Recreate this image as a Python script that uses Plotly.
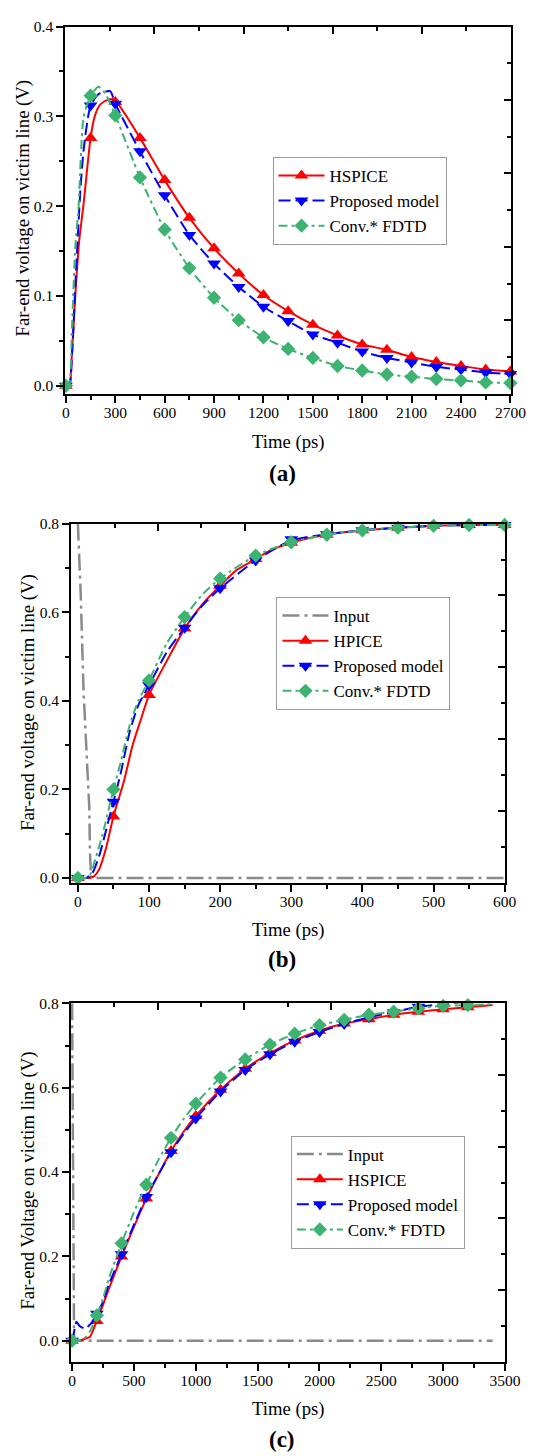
import plotly.graph_objects as go

# ---------------- Panel (a) data ----------------
a_line_t_hspice = [0, 22, 35, 57, 80, 107, 150, 175, 208, 250, 290, 320, 450, 600, 750, 900, 1050, 1200, 1350, 1500, 1650, 1800, 1950, 2100, 2250, 2400, 2550, 2700]
a_line_v_hspice = [0, 0, 0.03, 0.10, 0.16, 0.202, 0.276, 0.300, 0.313, 0.318, 0.319, 0.313, 0.276, 0.229, 0.187, 0.153, 0.125, 0.101, 0.083, 0.068, 0.056, 0.046, 0.040, 0.032, 0.0265, 0.022, 0.018, 0.016]
a_line_t_prop = [0, 20, 38, 59, 89, 109, 150, 200, 269, 300, 450, 600, 750, 900, 1050, 1200, 1350, 1500, 1650, 1800, 1950, 2100, 2250, 2400, 2550, 2700]
a_line_v_prop = [0, 0, 0.037, 0.118, 0.221, 0.265, 0.312, 0.325, 0.328, 0.314, 0.261, 0.212, 0.168, 0.136, 0.110, 0.088, 0.072, 0.057, 0.048, 0.038, 0.031, 0.026, 0.021, 0.018, 0.0147, 0.013]
a_line_t_fdtd = [0, 18, 37, 57, 77, 107, 150, 198, 240, 300, 450, 600, 750, 900, 1050, 1200, 1350, 1500, 1650, 1800, 1950, 2100, 2250, 2400, 2550, 2700]
a_line_v_fdtd = [0, 0, 0.066, 0.155, 0.199, 0.298, 0.323, 0.333, 0.325, 0.301, 0.232, 0.174, 0.131, 0.098, 0.073, 0.054, 0.041, 0.031, 0.022, 0.017, 0.0125, 0.010, 0.0074, 0.006, 0.0037, 0.003]

a_mark_t = [0, 150, 300, 450, 600, 750, 900, 1050, 1200, 1350, 1500, 1650, 1800, 1950, 2100, 2250, 2400, 2550, 2700]
a_mark_hspice = [0, 0.276, 0.316, 0.276, 0.229, 0.187, 0.153, 0.125, 0.101, 0.083, 0.068, 0.056, 0.046, 0.040, 0.032, 0.0265, 0.022, 0.018, 0.016]
a_mark_prop = [0, 0.312, 0.314, 0.261, 0.212, 0.168, 0.136, 0.110, 0.088, 0.072, 0.057, 0.048, 0.038, 0.031, 0.026, 0.021, 0.018, 0.0147, 0.013]
a_mark_fdtd = [0, 0.323, 0.301, 0.232, 0.174, 0.131, 0.098, 0.073, 0.054, 0.041, 0.031, 0.022, 0.017, 0.0125, 0.010, 0.0074, 0.006, 0.0037, 0.003]

# ---------------- Panel (b) data ----------------
b_input_t = [0, 4, 8, 12, 16, 17, 18.5, 600]
b_input_v = [0.8, 0.64, 0.42, 0.28, 0.16, 0.06, 0, 0]
b_line_t_hspice = [0, 15, 22, 30, 40, 50, 65, 77, 88, 100, 129, 150, 176, 200, 223, 250, 270, 300, 350, 400, 450, 500, 550, 600]
b_line_v_hspice = [0, 0, 0.003, 0.02, 0.07, 0.139, 0.22, 0.30, 0.355, 0.413, 0.502, 0.563, 0.620, 0.660, 0.695, 0.720, 0.739, 0.757, 0.775, 0.785, 0.791, 0.795, 0.797, 0.797]
b_line_t_prop = [0, 12, 20, 30, 40, 50, 60, 73, 85, 100, 125, 150, 175, 200, 250, 300, 350, 400, 450, 500, 550, 600]
b_line_v_prop = [0, 0, 0.01, 0.05, 0.11, 0.172, 0.235, 0.331, 0.39, 0.435, 0.51, 0.565, 0.615, 0.654, 0.717, 0.762, 0.776, 0.785, 0.791, 0.795, 0.797, 0.797]
b_line_t_fdtd = [0, 10, 17, 25, 35, 50, 60, 73, 85, 100, 125, 150, 175, 200, 250, 300, 350, 400, 450, 500, 550, 600]
b_line_v_fdtd = [0, 0, 0.007, 0.045, 0.10, 0.20, 0.26, 0.346, 0.40, 0.446, 0.53, 0.589, 0.64, 0.676, 0.728, 0.758, 0.775, 0.785, 0.791, 0.795, 0.797, 0.797]

b_mark_t = [0, 50, 100, 150, 200, 250, 300, 350, 400, 450, 500, 550, 600]
b_mark_hspice = [0, 0.139, 0.413, 0.563, 0.66, 0.72, 0.757, 0.775, 0.785, 0.791, 0.795, 0.797, 0.797]
b_mark_prop = [0, 0.172, 0.435, 0.565, 0.654, 0.717, 0.765, 0.776, 0.785, 0.791, 0.795, 0.797, 0.797]
b_mark_fdtd = [0, 0.2, 0.446, 0.589, 0.676, 0.728, 0.758, 0.775, 0.785, 0.791, 0.795, 0.797, 0.797]

# ---------------- Panel (c) data ----------------
c_input_t = [0, 6, 12, 16, 3400]
c_input_v = [0.8, 0.4, 0.08, 0, 0]
c_line_t_hspice = [0, 60, 100, 143, 170, 200, 250, 300, 400, 500, 600, 700, 800, 900, 1000, 1200, 1400, 1600, 1800, 2000, 2200, 2400, 2600, 2800, 3000, 3200, 3400]
c_line_v_hspice = [0, 0, 0.004, 0.009, 0.025, 0.047, 0.085, 0.125, 0.200, 0.27, 0.337, 0.395, 0.45, 0.495, 0.533, 0.595, 0.645, 0.682, 0.712, 0.735, 0.752, 0.7625, 0.773, 0.780, 0.786, 0.791, 0.796]
c_line_t_prop = [0, 15, 35, 60, 102, 150, 200, 250, 300, 400, 500, 600, 700, 800, 900, 1000, 1200, 1400, 1600, 1800, 2000, 2200, 2400, 2600, 2800, 3000, 3200]
c_line_v_prop = [0, 0.02, 0.045, 0.035, 0.029, 0.04, 0.064, 0.092, 0.135, 0.205, 0.275, 0.341, 0.395, 0.447, 0.49, 0.527, 0.591, 0.642, 0.679, 0.709, 0.732, 0.751, 0.767, 0.779, 0.792, 0.798, 0.804]
c_line_t_fdtd = [0, 60, 100, 150, 200, 250, 300, 400, 500, 600, 700, 800, 900, 1000, 1200, 1400, 1600, 1800, 2000, 2200, 2400, 2600, 2800, 3000, 3200, 3400]
c_line_v_fdtd = [0, 0, 0.006, 0.025, 0.060, 0.10, 0.15, 0.231, 0.305, 0.370, 0.43, 0.481, 0.525, 0.562, 0.624, 0.667, 0.702, 0.728, 0.748, 0.761, 0.773, 0.780, 0.788, 0.794, 0.796, 0.798]

c_mark_t = [0, 200, 400, 600, 800, 1000, 1200, 1400, 1600, 1800, 2000, 2200, 2400, 2600, 2800, 3000, 3200]
c_mark_hspice = [0, 0.047, 0.200, 0.337, 0.45, 0.533, 0.595, 0.645, 0.682, 0.712, 0.735, 0.752, 0.7625, 0.773, 0.780, 0.786, 0.791]
c_mark_prop = [0, 0.064, 0.205, 0.341, 0.447, 0.527, 0.591, 0.642, 0.679, 0.709, 0.732, 0.751, 0.767, 0.779, 0.792, 0.798, 0.804]
c_mark_fdtd = [0, 0.060, 0.231, 0.370, 0.481, 0.562, 0.624, 0.667, 0.702, 0.728, 0.748, 0.761, 0.773, 0.780, 0.788, 0.794, 0.796]

# ---------------- Styling ----------------
W, H = 542, 1456
FONT = "Liberation Serif"
RED, BLUE, GREEN, GRAY = "#FF0000", "#0000FF", "#3CB371", "#8A8A8A"
STY = {
    "hspice": dict(color=RED, dash="solid", symbol="triangle-up", size=12),
    "prop": dict(color=BLUE, dash="12px,5px", symbol="triangle-down", size=12),
    "fdtd": dict(color=GREEN, dash="9px,4px,3px,4px", symbol="diamond", size=11),
}
INPUT_DASH = "17px,5px,3px,5px"

fig = go.Figure()


def px_x(p):
    return p / W


def px_y(p):
    return 1 - p / H


def add_series(xa, ya, lg, name, key, lt, lv, mt, mv):
    s = STY[key]
    fig.add_trace(go.Scatter(x=lt, y=lv, mode="lines", xaxis=xa, yaxis=ya,
                             line=dict(color=s["color"], width=2, dash=s["dash"], shape="spline", smoothing=0.6),
                             showlegend=False, hoverinfo="skip"))
    fig.add_trace(go.Scatter(x=mt, y=mv, mode="markers", xaxis=xa, yaxis=ya, cliponaxis=False,
                             marker=dict(color=s["color"], symbol=s["symbol"], size=s["size"], line=dict(width=0)),
                             showlegend=False, hoverinfo="skip"))
    fig.add_trace(go.Scatter(x=[None], y=[None], mode="lines+markers", xaxis=xa, yaxis=ya, name=name, legend=lg,
                             line=dict(color=s["color"], width=2, dash=s["dash"]),
                             marker=dict(color=s["color"], symbol=s["symbol"], size=s["size"], line=dict(width=0))))


def add_input(xa, ya, lg, t, v):
    fig.add_trace(go.Scatter(x=t, y=v, mode="lines", xaxis=xa, yaxis=ya, name="Input", legend=lg,
                             line=dict(color=GRAY, width=2.5, dash=INPUT_DASH)))


# panel a
add_series("x", "y", "legend", "HSPICE", "hspice", a_line_t_hspice, a_line_v_hspice, a_mark_t, a_mark_hspice)
add_series("x", "y", "legend", "Proposed model", "prop", a_line_t_prop, a_line_v_prop, a_mark_t, a_mark_prop)
add_series("x", "y", "legend", "Conv.* FDTD", "fdtd", a_line_t_fdtd, a_line_v_fdtd, a_mark_t, a_mark_fdtd)
# panel b
add_input("x2", "y2", "legend2", b_input_t, b_input_v)
add_series("x2", "y2", "legend2", "HPICE", "hspice", b_line_t_hspice, b_line_v_hspice, b_mark_t, b_mark_hspice)
add_series("x2", "y2", "legend2", "Proposed model", "prop", b_line_t_prop, b_line_v_prop, b_mark_t, b_mark_prop)
add_series("x2", "y2", "legend2", "Conv.* FDTD", "fdtd", b_line_t_fdtd, b_line_v_fdtd, b_mark_t, b_mark_fdtd)
# panel c
add_input("x3", "y3", "legend3", c_input_t, c_input_v)
add_series("x3", "y3", "legend3", "HSPICE", "hspice", c_line_t_hspice, c_line_v_hspice, c_mark_t, c_mark_hspice)
add_series("x3", "y3", "legend3", "Proposed model", "prop", c_line_t_prop, c_line_v_prop, c_mark_t, c_mark_prop)
add_series("x3", "y3", "legend3", "Conv.* FDTD", "fdtd", c_line_t_fdtd, c_line_v_fdtd, c_mark_t, c_mark_fdtd)

# dummy traces for inward top/right tick axes
for xa, ya in [("x4", "y4"), ("x5", "y5"), ("x6", "y6")]:
    fig.add_trace(go.Scatter(x=[None], y=[None], xaxis=xa, yaxis=ya, showlegend=False, hoverinfo="skip"))

tickfont = dict(family=FONT, size=15.5, color="black")


def main_x(domain, anchor, rng, dtick, minor):
    return dict(domain=domain, anchor=anchor, range=rng, tick0=0, dtick=dtick, ticks="outside", ticklen=7,
                tickwidth=2, tickcolor="black", showline=True, linewidth=2, linecolor="black", mirror=True,
                showgrid=False, zeroline=False, tickfont=tickfont, fixedrange=True, ticklabelstandoff=-3,
                minor=dict(tick0=0, dtick=minor, ticks="outside", ticklen=4, tickwidth=2, tickcolor="black", showgrid=False))


def main_y(domain, anchor, rng, dtick, minor):
    return dict(domain=domain, anchor=anchor, range=rng, tick0=0, dtick=dtick, tickformat=".1f", ticks="outside",
                ticklen=7, tickwidth=2, tickcolor="black", showline=True, linewidth=2, linecolor="black",
                mirror=True, showgrid=False, zeroline=False, tickfont=tickfont, fixedrange=True,
                minor=dict(tick0=0, dtick=minor, ticks="outside", ticklen=4, tickwidth=2, tickcolor="black", showgrid=False))


def top_x(over, anchor):
    return dict(overlaying=over, anchor=anchor, side="top", range=[0, 10], tick0=0, dtick=2, ticks="inside",
                ticklen=7, tickwidth=2, tickcolor="black", showticklabels=False, showline=False, showgrid=False,
                zeroline=False, fixedrange=True,
                minor=dict(tick0=0, dtick=1, ticks="inside", ticklen=4, tickwidth=2, tickcolor="black", showgrid=False))


def right_y(over, anchor):
    return dict(overlaying=over, anchor=anchor, side="right", range=[0, 10], tick0=0, dtick=2, ticks="inside",
                ticklen=7, tickwidth=2, tickcolor="black", showticklabels=False, showline=False, showgrid=False,
                zeroline=False, fixedrange=True,
                minor=dict(tick0=0, dtick=1, ticks="inside", ticklen=4, tickwidth=2, tickcolor="black", showgrid=False))


dom_a_x = [px_x(64.5), px_x(526.5)]
dom_a_y = [px_y(388.3), px_y(17.7)]
dom_b_x = [px_x(70.6), px_x(520.6)]
dom_b_y = [px_y(881.7), px_y(519.3)]
dom_c_x = [px_x(70.2), px_x(520.2)]
dom_c_y = [px_y(1365), px_y(1003.3)]

legend_common = dict(xanchor="left", yanchor="top", bgcolor="white", bordercolor="#9A9A9A", borderwidth=1,
                     font=dict(family=FONT, size=17, color="black"), itemwidth=46, tracegroupgap=0,
                     xref="paper", yref="paper")

annotations = []


def add_text(text, x, y, size, angle=0, bold=False):
    annotations.append(dict(text=("<b>%s</b>" % text) if bold else text, x=px_x(x), y=px_y(y), xref="paper",
                            yref="paper", showarrow=False, textangle=angle, xanchor="center", yanchor="middle",
                            font=dict(family=FONT, size=size, color="black")))


add_text("Time (ps)", 295.5, 436.7, 18.7)
add_text("Time (ps)", 295.5, 929.3, 18.7)
add_text("Time (ps)", 295.5, 1412.3, 18.7)
add_text("Far-end voltage on victim line (V)", 21, 201, 18.7, angle=-90)
add_text("Far-end voltage on victim line (V)", 26, 700, 18.7, angle=-90)
add_text("Far-end Voltage on victim line (V)", 26, 1182, 18.7, angle=-90)
add_text("(a)", 289.5, 469, 23, bold=True)
add_text("(b)", 289.5, 959, 23, bold=True)
add_text("(c)", 289.5, 1443, 23, bold=True)

fig.update_layout(
    width=W, height=H, margin=dict(l=0, r=0, t=0, b=0),
    paper_bgcolor="white", plot_bgcolor="white",
    xaxis=main_x(dom_a_x, "y", [-4, 2704], 300, 150),
    yaxis=main_y(dom_a_y, "x", [-0.009, 0.4], 0.1, 0.05),
    xaxis2=main_x(dom_b_x, "y2", [-9.5, 601], 100, 50),
    yaxis2=main_y(dom_b_y, "x2", [-0.011, 0.8], 0.2, 0.1),
    xaxis3=main_x(dom_c_x, "y3", [-11, 3500], 500, 250),
    yaxis3=main_y(dom_c_y, "x3", [-0.05, 0.8], 0.2, 0.1),
    xaxis4=top_x("x", "y"), yaxis4=right_y("y", "x"),
    xaxis5=top_x("x2", "y2"), yaxis5=right_y("y2", "x2"),
    xaxis6=top_x("x3", "y3"), yaxis6=right_y("y3", "x3"),
    legend=dict(x=px_x(279.3), y=px_y(149.3), **legend_common),
    legend2=dict(x=px_x(283.4), y=px_y(593.3), **legend_common),
    legend3=dict(x=px_x(298.3), y=px_y(1136.7), **legend_common),
    annotations=annotations,
    showlegend=True,
)

fig.write_html("out.html")
